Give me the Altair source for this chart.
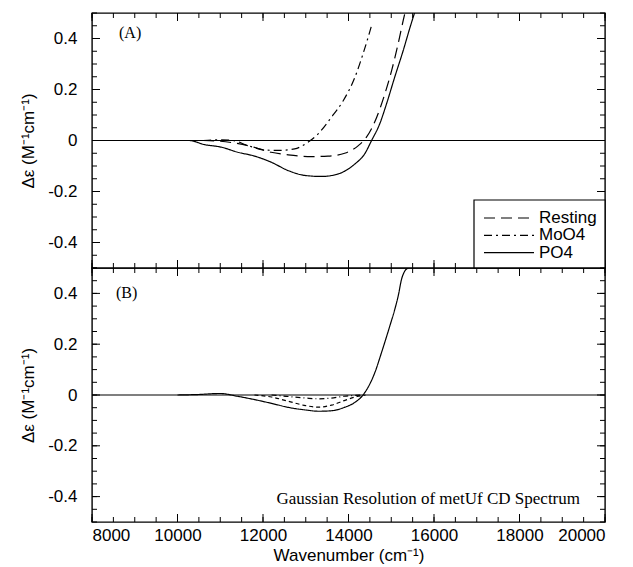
import altair as alt
import pandas as pd

# ---------------- data ----------------
X_DOMAIN = [8000, 20000]
Y_DOMAIN = [-0.5, 0.5]

x_tick_labels = [8000, 10000, 12000, 14000, 16000, 18000, 20000]
y_tick_labels = [-0.4, -0.2, 0.0, 0.2, 0.4]
x_minor_ticks = list(range(8000, 20001, 500))
x_major_ticks = x_tick_labels
y_minor_ticks = [round(-0.5 + 0.05 * i, 2) for i in range(21)]
y_major_ticks = y_tick_labels

# Panel A
a_rest_x = [10600, 11000, 11650, 12190, 12590, 13130, 13520, 13910, 14230, 14420, 14660, 14850, 15010, 15160, 15280, 15320]
a_rest_y = [0.0, -0.003, -0.020, -0.046, -0.056, -0.063, -0.061, -0.050, -0.020, 0.013, 0.091, 0.183, 0.275, 0.379, 0.471, 0.5]

a_moo4_x = [10600, 11000, 11300, 11650, 12040, 12350, 12740, 13050, 13290, 13600, 13880, 14150, 14340, 14460, 14540]
a_moo4_y = [0.0, 0.003, 0.0, -0.020, -0.037, -0.039, -0.033, -0.007, 0.026, 0.091, 0.157, 0.248, 0.340, 0.405, 0.451]

a_po4_x = [10000, 10270, 10630, 11020, 11410, 11800, 12190, 12590, 12980, 13370, 13760, 14150, 14380, 14540, 14730, 14890, 15080, 15280, 15440, 15550]
a_po4_y = [0.0, 0.0, -0.016, -0.026, -0.046, -0.061, -0.085, -0.118, -0.137, -0.141, -0.131, -0.092, -0.052, 0.0, 0.065, 0.144, 0.248, 0.353, 0.444, 0.503]

# Panel B
b_fit_x = [10000, 10500, 11000, 11400, 11800, 12200, 12600, 13000, 13300, 13600, 13900, 14150, 14340, 14618, 14774, 14969, 15086, 15164, 15243, 15320, 15400]
b_fit_y = [0.0, 0.002, 0.006, -0.005, -0.018, -0.033, -0.049, -0.059, -0.064, -0.062, -0.049, -0.029, 0.0, 0.089, 0.168, 0.273, 0.339, 0.391, 0.457, 0.489, 0.5]

b_comp1_x = [11800, 12200, 12600, 13000, 13300, 13600, 13900, 14200, 14400]
b_comp1_y = [0.0, -0.008, -0.025, -0.042, -0.048, -0.040, -0.022, -0.006, 0.0]

b_comp2_x = [12200, 12600, 13000, 13300, 13600, 13900, 14300]
b_comp2_y = [0.0, -0.006, -0.012, -0.015, -0.012, -0.005, 0.0]

legend_labels = ["Resting", "MoO4", "PO4"]
panel_labels = ["(A)", "(B)"]
note_text = ["Gaussian Resolution of metUf CD Spectrum"]

# ---------------- styles ----------------
W, HA, HB = 513, 255, 254
SANS = "Liberation Sans"
SERIF = "Liberation Serif"
DASH_REST = [11, 6]
DASH_MOO4 = [8, 4, 2, 4]
SOLID = [1, 0]

xs = alt.Scale(domain=X_DOMAIN, nice=False, zero=False)
ys = alt.Scale(domain=Y_DOMAIN, nice=False, zero=False)

yaxis = alt.Axis(
    values=y_tick_labels,
    labelExpr="datum.value == 0 ? '0' : (datum.value < 0 ? '-' : '') + format(abs(datum.value), '.1f')",
    ticks=False, domain=False, grid=False,
    labelFont=SANS, labelFontSize=17, labelColor="black", labelPadding=15,
    title="Δε (M⁻¹cm⁻¹)", titleFont=SANS, titleFontSize=17,
    titleFontWeight="normal", titleColor="black", titlePadding=10,
)
xaxis = alt.Axis(
    values=x_tick_labels, format="d",
    ticks=False, domain=False, grid=False,
    labelFont=SANS, labelFontSize=17, labelColor="black", labelPadding=5,
    title="Wavenumber (cm⁻¹)", titleFont=SANS, titleFontSize=17,
    titleFontWeight="normal", titleColor="black", titlePadding=4,
)


def X(axis):
    return alt.X("x:Q", scale=xs, axis=axis)


def Y():
    return alt.Y("y:Q", scale=ys, axis=yaxis)


def curve(xv, yv, dash, axis):
    df = pd.DataFrame({"x": xv, "y": yv})
    return alt.Chart(df).mark_line(
        color="black", strokeWidth=1.2, strokeDash=dash, interpolate="monotone", clip=True
    ).encode(x=X(axis), y=Y())


def frame_ticks(H, axis):
    layers = []
    for vals, ln in [(x_minor_ticks, 5), (x_major_ticks, 8)]:
        d = pd.DataFrame({"x": vals})
        layers.append(alt.Chart(d).mark_rule(color="black", strokeWidth=1).encode(
            x=X(axis), y=alt.value(H), y2=alt.value(H - ln)))
        layers.append(alt.Chart(d).mark_rule(color="black", strokeWidth=1).encode(
            x=X(axis), y=alt.value(0), y2=alt.value(ln)))
    for vals, ln in [(y_minor_ticks, 5), (y_major_ticks, 8)]:
        d = pd.DataFrame({"y": vals})
        layers.append(alt.Chart(d).mark_rule(color="black", strokeWidth=1).encode(
            y=Y(), x=alt.value(0), x2=alt.value(ln)))
        layers.append(alt.Chart(d).mark_rule(color="black", strokeWidth=1).encode(
            y=Y(), x=alt.value(W), x2=alt.value(W - ln)))
    return layers


def zero_line():
    return alt.Chart(pd.DataFrame({"y": [0.0]})).mark_rule(color="black", strokeWidth=1.2).encode(y=Y())


def label(text, px, py):
    return alt.Chart(pd.DataFrame({"t": [text]})).mark_text(
        font=SERIF, fontSize=16, align="left", baseline="middle", color="black"
    ).encode(x=alt.value(px), y=alt.value(py), text="t:N")


# ---------------- panel A ----------------
legend_layers = [
    alt.Chart(pd.DataFrame({"k": [0]})).mark_rect(fill="white", stroke="black", strokeWidth=1.2).encode(
        x=alt.value(382), x2=alt.value(W), y=alt.value(187), y2=alt.value(HA))
]
for i, (name, dash) in enumerate(zip(legend_labels, [DASH_REST, DASH_MOO4, SOLID])):
    yy = 205 + i * 17.3
    d = pd.DataFrame({"t": [name]})
    legend_layers.append(alt.Chart(d).mark_rule(color="black", strokeWidth=1.2, strokeDash=dash).encode(
        x=alt.value(392), x2=alt.value(442), y=alt.value(yy)))
    legend_layers.append(alt.Chart(d).mark_text(font=SANS, fontSize=17, align="left", baseline="middle", color="black").encode(
        x=alt.value(447), y=alt.value(yy), text="t:N"))

panelA = alt.layer(
    zero_line(),
    curve(a_rest_x, a_rest_y, DASH_REST, None),
    curve(a_moo4_x, a_moo4_y, DASH_MOO4, None),
    curve(a_po4_x, a_po4_y, SOLID, None),
    *frame_ticks(HA, None),
    label(panel_labels[0], 27, 20),
    *legend_layers,
).properties(width=W, height=HA)

# ---------------- panel B ----------------
note = alt.Chart(pd.DataFrame({"t": note_text})).mark_text(
    font=SERIF, fontSize=17, align="right", baseline="middle", color="black"
).encode(x=alt.value(488), y=alt.value(231), text="t:N")

panelB = alt.layer(
    zero_line(),
    curve(b_comp1_x, b_comp1_y, [4, 3], xaxis),
    curve(b_comp2_x, b_comp2_y, [5, 3, 1, 3], xaxis),
    curve(b_fit_x, b_fit_y, SOLID, xaxis),
    *frame_ticks(HB, xaxis),
    label(panel_labels[1], 24, 25),
    note,
).properties(width=W, height=HB)

chart = alt.vconcat(panelA, panelB, spacing=0, bounds="flush").properties(
    padding={"left": 11, "top": 3, "right": 5, "bottom": 0}
).configure_view(stroke="black", strokeWidth=1.4)

chart.save("out.html", embed_options={"renderer": "svg", "actions": False})
